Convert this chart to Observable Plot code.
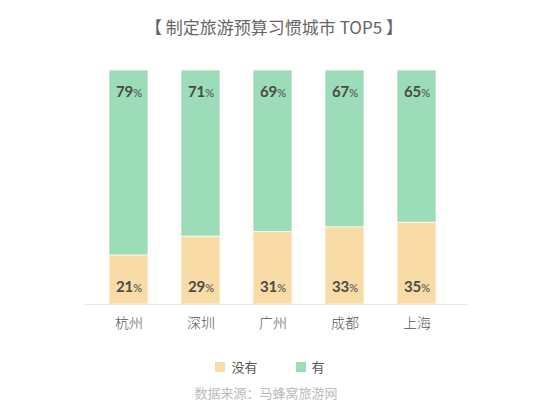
<!DOCTYPE html>
<html>
<head>
<meta charset="utf-8">
<script src="https://cdn.jsdelivr.net/npm/d3@7"></script>
<script src="https://cdn.jsdelivr.net/npm/@observablehq/plot@0.6"></script>
<style>
  html, body { margin: 0; padding: 0; background: #fff; }
  body { width: 552px; height: 418px; overflow: hidden; font-family: "Noto Sans CJK SC", "Noto Sans", sans-serif; }
  #title { height: 54px; line-height: 54px; text-align: center; font-size: 17px; color: #666; padding-right: 4px; }
  #legend { position: absolute; top: 357px; left: 0; width: 540px; display: flex; justify-content: center; font-size: 13px; color: #555; }
  .item { display: flex; align-items: center; margin: 0 19px; }
  .sw { width: 10px; height: 10px; margin-right: 6px; }
  #caption { position: absolute; top: 383px; left: 0; width: 532px; text-align: center; font-size: 13px; color: #bbb; }
  #chart { position: absolute; top: 52px; left: 0; }
</style>
</head>
<body>
<div id="title">【 制定旅游预算习惯城市 TOP5 】</div>
<div id="chart"></div>
<div id="legend"></div>
<div id="caption">数据来源：马蜂窝旅游网</div>
<script>
const cities = ["杭州", "深圳", "广州", "成都", "上海"];
const seriesNames = ["没有", "有"];
const noValues = [21, 29, 31, 33, 35];
const yesValues = [79, 71, 69, 67, 65];
const colors = ["#f8dba5", "#9cdcb8"];

const data = [];
cities.forEach((c, i) => {
  data.push({city: c, type: seriesNames[0], value: noValues[i]});
  data.push({city: c, type: seriesNames[1], value: yesValues[i]});
});

const labelFont = "Lato, 'DejaVu Sans', sans-serif";

const chart = Plot.plot({
  width: 552,
  height: 288,
  marginTop: 18,
  marginBottom: 36,
  marginLeft: 84,
  marginRight: 84,
  style: {fontFamily: "'Noto Sans CJK SC', sans-serif", background: "transparent", color: "#555"},
  x: {domain: cities, range: [75.6, 468.9], padding: 0.459, label: null, tickSize: 0, tickPadding: 14},
  y: {domain: [0, 100], axis: null},
  color: {domain: seriesNames, range: colors},
  marks: [
    Plot.barY(data, {x: "city", y: "value", fill: "type", stroke: "#ffffff", strokeWidth: 1, strokeOpacity: 0.7}),
    Plot.ruleY([0], {stroke: "#e8e8e8", strokeWidth: 1}),
    Plot.text(data.filter(d => d.type === seriesNames[1]), {
      x: "city", y: () => 100, dy: 22, text: d => d.value + "%",
      fill: "#4a4a4a", fontSize: 15, fontWeight: "bold", fontFamily: labelFont, className: "pct"
    }),
    Plot.text(data.filter(d => d.type === seriesNames[0]), {
      x: "city", y: () => 0, dy: -17, text: d => d.value + "%",
      fill: "#4a4a4a", fontSize: 15, fontWeight: "bold", fontFamily: labelFont, className: "pct"
    })
  ]
});

// make the % sign smaller
d3.select(chart).selectAll("g.pct text").each(function() {
  const t = d3.select(this);
  const s = t.text();
  const num = s.replace("%", "");
  t.text(null);
  t.append("tspan").text(num);
  t.append("tspan").attr("font-size", 11).attr("font-weight", "normal").text("%");
});
d3.select(chart).selectAll("g[aria-label='x-axis tick label']")
  .attr("font-size", 14).attr("fill", "#555").attr("font-weight", 300);

document.getElementById("chart").appendChild(chart);

const colorScale = chart.scale("color");
const legend = document.getElementById("legend");
colorScale.domain.forEach((name, i) => {
  const item = document.createElement("div");
  item.className = "item";
  const sw = document.createElement("div");
  sw.className = "sw";
  sw.style.background = colorScale.range[i];
  const lab = document.createElement("span");
  lab.textContent = name;
  item.appendChild(sw);
  item.appendChild(lab);
  legend.appendChild(item);
});
</script>
</body>
</html>
